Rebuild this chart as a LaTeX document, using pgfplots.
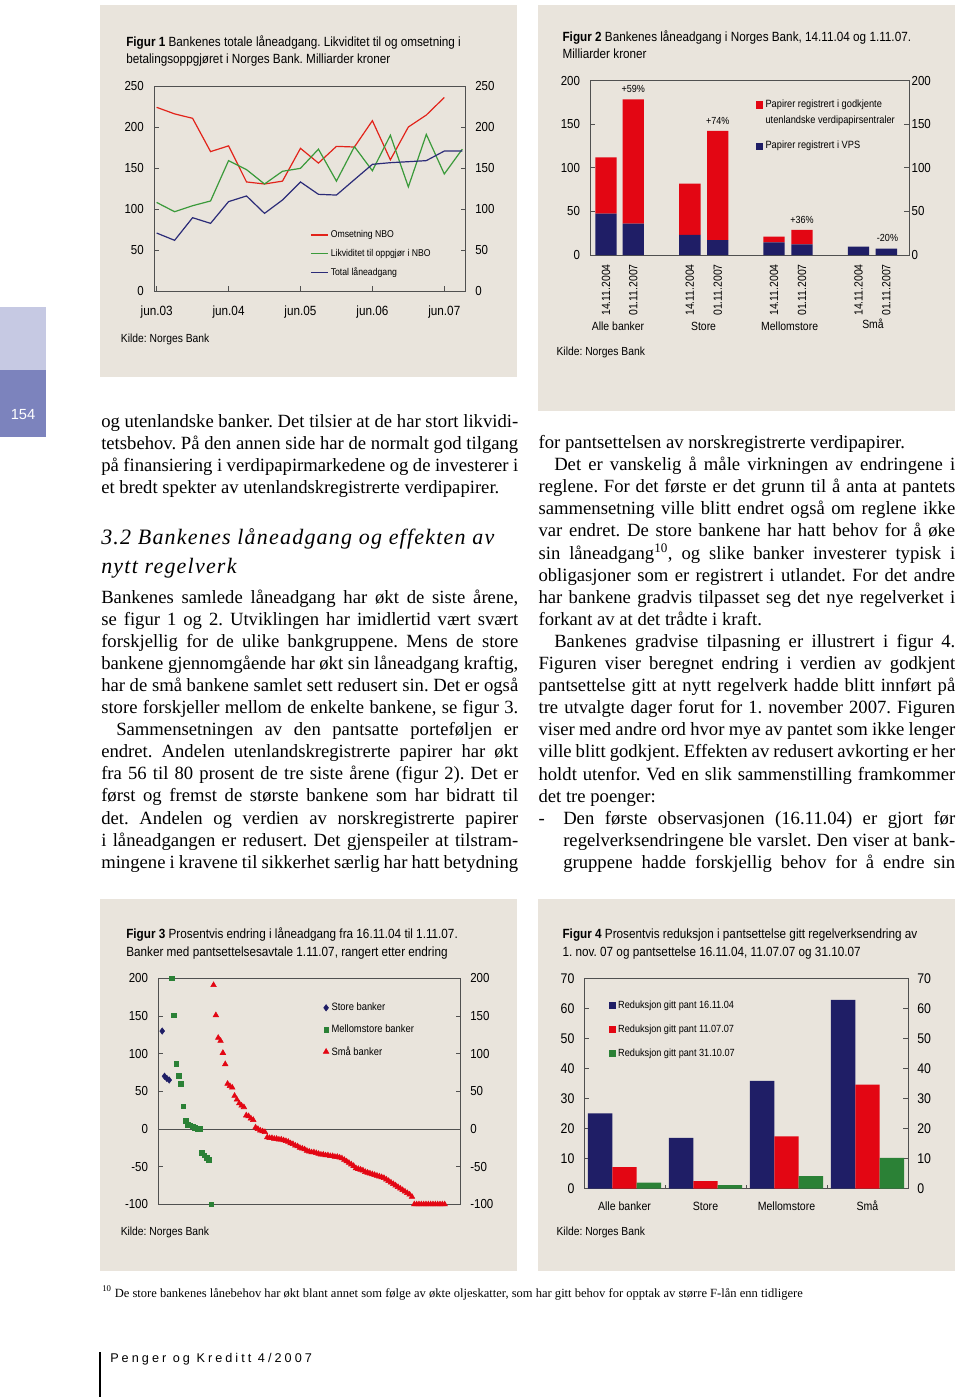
\documentclass[border=0pt]{standalone}
\usepackage{pgfplots}
\pgfplotsset{compat=1.18}
\usepackage{fontspec}
\setmainfont{Liberation Serif}
\newfontfamily\cf{Liberation Sans}[FakeStretch=0.88]
\newfontfamily\hf{Liberation Serif}[LetterSpace=5.5]
\newfontfamily\pf{Liberation Sans}[LetterSpace=24]
\newfontfamily\tf{Liberation Sans}
\frenchspacing
\definecolor{beige}{HTML}{E9E4DC}
\definecolor{fgray}{HTML}{505050}
\definecolor{lred}{HTML}{E2231A}
\definecolor{lgreen}{HTML}{3A9A3A}
\definecolor{lblue}{HTML}{2B2B78}
\definecolor{bred}{HTML}{E30613}
\definecolor{bnavy}{HTML}{1F1E66}
\definecolor{bgreen}{HTML}{2B8136}
\definecolor{tablight}{HTML}{C6C9E3}
\definecolor{tabdark}{HTML}{7C83BD}
\newcommand\bodyfs{\fontsize{14}{16.5}\selectfont}
\newcommand\jline[4]{\node[anchor=base west] at (#1,#2) {\bodyfs\makebox[#3pt][s]{#4}};}
\newcommand\nline[3]{\node[anchor=base west] at (#1,#2) {\bodyfs #3};}
\newcommand\tfs{\cf\fontsize{10}{12}\selectfont}
\newcommand\kfs{\cf\fontsize{8.8}{10}\selectfont}
\pgfplotsset{
 pnl/.style={scale only axis, anchor=south west, axis line style={fgray, line width=0.7pt},
   tick style={fgray, line width=0.6pt}, tick align=inside, major tick length=3.5pt,
   /pgf/number format/assume math mode=true,
   ticklabel style={font=\cf\fontsize{9.8}{11}\selectfont, inner sep=0pt},
   legend style={draw=none, fill=none, inner sep=0pt},
   legend cell align=left, clip=false, xtick pos=left, yticklabel pos=left},
 rl/.style={scale only axis, anchor=south west, hide x axis, axis y line*=right,
   y axis line style={draw=none}, ytick style={draw=none},
   /pgf/number format/assume math mode=true,
   yticklabel style={font=\cf\fontsize{9.8}{11}\selectfont, inner sep=0pt}},
}
\begin{document}
\begin{tikzpicture}
\begin{scope}[x=0.75pt,y=-0.75pt]
\path[use as bounding box] (0,0) rectangle (960,1397);
\fill[white] (0,0) rectangle (960,1397);
\fill[beige] (100,5) rectangle (517,377);
\fill[beige] (538,5) rectangle (955,411);
\fill[beige] (100,899) rectangle (517,1271);
\fill[beige] (538,899) rectangle (955,1271);
\fill[tablight] (0,307) rectangle (46,370);
\fill[tabdark] (0,370) rectangle (46,437);
\draw[line width=1pt] (100,1352) -- (100,1397);
\end{scope}

% ---------------- Figure 1
\begin{axis}[pnl, at={(115.725pt,-218.25pt)}, width=233.55pt, height=153.75pt,
  xmin=-0.13, xmax=17.19, ymin=0, ymax=250, ytick={0,50,...,250},
  xtick={0,4,8,12,16}, xticklabels={jun.03,jun.04,jun.05,jun.06,jun.07},
  xticklabel style={font=\cf\fontsize{10}{12}\selectfont},
  xticklabel shift=11pt, yticklabel shift=7.7pt,
  legend style={at={(0.5,0.31)}, anchor=north west, row sep=3pt, font=\cf\fontsize{7.4}{9}\selectfont},
  legend image code/.code={\draw[#1] (0pt,0pt) -- (12.5pt,0pt);}]
\addplot[lred, line width=0.9pt] coordinates {(0,224)(1,216)(2,210.6)(3,170)(4,177)(5,133)(6,130.5)(7,134)(8,174)(9,156)(10,176.4)(11,175.6)(12,207.7)(13,160)(14,200)(15,214.6)(16,236)};
\addlegendentry{Omsetning NBO}
\addplot[lgreen, line width=0.9pt] coordinates {(0,108)(1,96.7)(2,104)(3,109.8)(4,159)(5,148)(6,130.5)(7,146)(8,149.6)(9,173)(10,134)(11,176)(12,146.7)(13,190)(14,127)(15,191)(16,142.7)(17,173)};
\addlegendentry{Likviditet til oppgjør i NBO}
\addplot[lblue, line width=0.9pt] coordinates {(0,70.7)(1,61.8)(2,89.4)(3,82.5)(4,109)(5,115.9)(6,94.7)(7,111)(8,133)(9,117.9)(10,117)(11,135.8)(12,154.5)(13,156.5)(14,157.7)(15,159)(16,170.7)(17,170.7)};
\addlegendentry{Total låneadgang}
\end{axis}
\begin{axis}[rl, at={(115.725pt,-218.25pt)}, width=233.55pt, height=153.75pt,
  xmin=-0.13, xmax=17.19, ymin=0, ymax=250, ytick={0,50,...,250}, yticklabel shift=7pt]
\end{axis}

% ---------------- Figure 2
\begin{axis}[pnl, at={(442.725pt,-191.25pt)}, width=239.025pt, height=130.725pt,
  xmin=-0.574, xmax=11.087, ymin=0, ymax=200, ytick={0,50,...,200},
  ybar stacked, bar width=0.78,
  xtick={0,1,3.07,4.09,6.15,7.17,9.24,10.26},
  xticklabels={14.11.2004,01.11.2007,14.11.2004,01.11.2007,14.11.2004,01.11.2007,14.11.2004,01.11.2007},
  x tick style={draw=none},
  xticklabel style={rotate=90, anchor=east, font=\cf\fontsize{8.9}{10}\selectfont},
  xticklabel shift=6.75pt, yticklabel shift=7.5pt,
  legend style={at={(0.518,0.906)}, anchor=north west, row sep=1pt, font=\cf\fontsize{7.9}{9}\selectfont}]
\addplot[fill=bnavy, draw=none, forget plot] coordinates {(0,47.5)(1,36)(3.07,23)(4.09,17.2)(6.15,14.5)(7.17,12.2)(9.24,9.6)(10.26,7.3)};
\addplot[fill=bred, draw=none, forget plot] coordinates {(0,64.5)(1,142.5)(3.07,58.8)(4.09,125.1)(6.15,6.5)(7.17,16.5)(9.24,0)(10.26,0)};
\addlegendimage{legend image code/.code={\fill[bred] (0pt,-2.5pt) rectangle (5pt,2.5pt);}}
\addlegendentry{Papirer registrert i godkjente}
\addlegendimage{empty legend}
\addlegendentry{utenlandske verdipapirsentraler}
\addlegendimage{empty legend}
\addlegendentry{}
\addlegendimage{legend image code/.code={\fill[bnavy] (0pt,-2.5pt) rectangle (5pt,2.5pt);}}
\addlegendentry{Papirer registrert i VPS}
\node[anchor=south, font=\cf\fontsize{7.7}{9}\selectfont, yshift=1.5pt] at (axis cs:1,178.5) {+59\%};
\node[anchor=south, font=\cf\fontsize{7.7}{9}\selectfont, yshift=1.5pt] at (axis cs:4.09,142.3) {+74\%};
\node[anchor=south, font=\cf\fontsize{7.7}{9}\selectfont, yshift=1.5pt] at (axis cs:7.17,28.7) {+36\%};
\node[anchor=south, font=\cf\fontsize{7.7}{9}\selectfont, yshift=1.5pt] at (axis cs:10.3,7.3) {-20\%};
\node[anchor=base, font=\cf\fontsize{8.9}{10}\selectfont, yshift=-56.25pt] at (axis cs:0.44,0) {Alle banker};
\node[anchor=base, font=\cf\fontsize{8.9}{10}\selectfont, yshift=-56.25pt] at (axis cs:3.57,0) {Store};
\node[anchor=base, font=\cf\fontsize{8.9}{10}\selectfont, yshift=-56.25pt] at (axis cs:6.72,0) {Mellomstore};
\node[anchor=base, font=\cf\fontsize{8.9}{10}\selectfont, yshift=-55pt] at (axis cs:9.77,0) {Små};
\end{axis}
\begin{axis}[rl, at={(442.725pt,-191.25pt)}, width=239.025pt, height=130.725pt,
  xmin=-0.574, xmax=11.087, ymin=0, ymax=200, ytick={0,50,...,200}, yticklabel shift=1.75pt]
\end{axis}

% ---------------- Figure 3
\begin{axis}[pnl, at={(119.025pt,-903.225pt)}, width=226.2pt, height=169.5pt,
  xmin=-1.5, xmax=127.7, ymin=-100, ymax=200, ytick={-100,-50,...,200}, xtick=\empty,
  extra y ticks={0}, extra y tick labels={},
  extra y tick style={grid=major, major grid style={fgray, line width=0.7pt}},
  yticklabel shift=7.8pt,
  legend style={at={(0.545,0.904)}, anchor=north west, row sep=5pt, font=\cf\fontsize{8}{9}\selectfont},
  legend image code/.code={\draw[#1] plot coordinates {(3pt,0pt)};}]
\addplot[only marks, mark=diamond*, mark size=2.4pt, color=bnavy] coordinates {(0,130)(1,70)(2,67)(3,65)};
\addlegendentry{Store banker}
\addplot[only marks, mark=square*, mark size=1.75pt, color=bgreen] coordinates {(4,200)(5,151)(6,87)(7,71)(8,60)(9,30)(10,11)(11,6)(12,5)(13,3.5)(14,1.5)(15,0.5)(16,0)(17,-32)(18,-35)(19,-38)(20,-41)(21,-100)};
\addlegendentry{Mellomstore banker}
\addplot[only marks, mark=triangle*, mark size=2.4pt, color=bred] coordinates {
(22,191)(23,151)(24,121)(25,117)(26,101)(27,86)(28,60)(29,57)(30,55)(31,44)
(32,39)(33,34)(34,31)(35,29)(36,18)(37,17)(38,14)(39,12)(40,2)(41,0)
(42,-2)(43,-3)(44,-4)(45,-11)(46,-12)(47,-12)(48,-13)(49,-13)(50,-14)(51,-14)
(52,-15)(53,-16)(54,-17)(55,-19)(56,-20)(57,-22)(58,-23)(59,-25)(60,-26)(61,-27)
(62,-29)(63,-30)(64,-31)(65,-31)(66,-32)(67,-33)(68,-34)(69,-34)(70,-35)(71,-35)
(72,-36)(73,-36)(74,-37)(75,-37)(76,-38)(77,-39)(78,-41)(79,-43)(80,-45)(81,-47)
(82,-49)(83,-52)(84,-53)(85,-54)(86,-55)(87,-57)(88,-58)(89,-59)(90,-60)(91,-61)
(92,-62)(93,-63)(94,-64)(95,-65)(96,-67)(97,-69)(98,-71)(99,-73)(100,-75)(101,-77)
(102,-79)(103,-81)(104,-83)(105,-85)(106,-87)(107,-90)(108,-100)(109,-100)(110,-100)(111,-100)
(112,-100)(113,-100)(114,-100)(115,-100)(116,-100)(117,-100)(118,-100)(119,-100)(120,-100)(121,-100)};
\addlegendentry{Små banker}
\end{axis}
\begin{axis}[rl, at={(119.025pt,-903.225pt)}, width=226.2pt, height=169.5pt,
  xmin=-1.5, xmax=127.7, ymin=-100, ymax=200, ytick={-100,-50,...,200}, yticklabel shift=7.3pt]
\end{axis}

% ---------------- Figure 4
\begin{axis}[pnl, at={(438pt,-891.525pt)}, width=243pt, height=157.8pt,
  xmin=-0.5, xmax=3.5, ymin=0, ymax=70, ytick={0,10,...,70},
  xtick={0,1,2,3}, xticklabels={Alle banker,Store,Mellomstore,Små},
  major x tick style={draw=none}, minor xtick={0.5,1.5,2.5},
  ticklabel style={font=\cf\fontsize{10.5}{12}\selectfont},
  xticklabel style={font=\cf\fontsize{9}{11}\selectfont, text height=6.6pt}, xticklabel shift=9.6pt,
  yticklabel shift=7pt,
  legend style={at={(0.076,0.908)}, anchor=north west, row sep=7pt, font=\cf\fontsize{7.8}{9}\selectfont},
  legend image code/.code={\fill[#1] (0pt,-2.5pt) rectangle (5pt,2.5pt);}]
\addplot[ybar, bar width=0.302, bar shift=-0.302, fill=bnavy, draw=none] coordinates {(0,25.1)(1,16.9)(2,35.9)(3,62.8)};
\addlegendentry{Reduksjon gitt pant 16.11.04}
\addplot[ybar, bar width=0.302, bar shift=0, fill=bred, draw=none] coordinates {(0,7.2)(1,2.5)(2,17.4)(3,34.6)};
\addlegendentry{Reduksjon gitt pant 11.07.07}
\addplot[ybar, bar width=0.302, bar shift=0.302, fill=bgreen, draw=none] coordinates {(0,2.0)(1,1.2)(2,4.2)(3,10.3)};
\addlegendentry{Reduksjon gitt pant 31.10.07}
\end{axis}
\begin{axis}[rl, at={(438pt,-891.525pt)}, width=243pt, height=157.8pt,
  xmin=-0.5, xmax=3.5, ymin=0, ymax=70, ytick={0,10,...,70}, yticklabel shift=6.75pt,
  yticklabel style={font=\cf\fontsize{10.5}{12}\selectfont}]
\end{axis}

% ---------------- Texts
\begin{scope}[x=0.75pt,y=-0.75pt, every node/.style={inner sep=0pt}]
\node[anchor=base west, font=\tfs] at (126,46.7) {\textbf{Figur 1} Bankenes totale låneadgang. Likviditet til og omsetning i};
\node[anchor=base west, font=\tfs] at (126,63.3) {betalingsoppgjøret i Norges Bank. Milliarder kroner};
\node[anchor=base west, font=\kfs] at (120.7,342.5) {Kilde: Norges Bank};
\node[anchor=base west, font=\tfs] at (562.3,41) {\textbf{Figur 2} Bankenes låneadgang i Norges Bank, 14.11.04 og 1.11.07.};
\node[anchor=base west, font=\tfs] at (562.3,58.3) {Milliarder kroner};
\node[anchor=base west, font=\kfs] at (556.3,355.5) {Kilde: Norges Bank};
\node[anchor=base west, font=\tfs] at (126,938.3) {\textbf{Figur 3} Prosentvis endring i låneadgang fra 16.11.04 til 1.11.07.};
\node[anchor=base west, font=\tfs] at (126,956) {Banker med pantsettelsesavtale 1.11.07, rangert etter endring};
\node[anchor=base west, font=\kfs] at (120.5,1235) {Kilde: Norges Bank};
\node[anchor=base west, font=\tfs] at (562.3,938.3) {\textbf{Figur 4} Prosentvis reduksjon i pantsettelse gitt regelverksendring av};
\node[anchor=base west, font=\tfs] at (562.3,956) {1. nov. 07 og pantsettelse 16.11.04, 11.07.07 og 31.10.07};
\node[anchor=base west, font=\kfs] at (556.3,1235) {Kilde: Norges Bank};

\node[text=white, font=\tf\fontsize{11}{13}\selectfont] at (23,415) {154};

% left column
\jline{101}{427}{312.75}{og utenlandske banker. Det tilsier at de har stort likvidi-}
\jline{101}{449}{312.75}{tetsbehov. På den annen side har de normalt god tilgang}
\jline{101}{471}{312.75}{på finansiering i verdipapirmarkedene og de investerer i}
\nline{101}{493}{et bredt spekter av utenlandskregistrerte verdipapirer.}
\node[anchor=base west] at (101,544.7) {\hf\itshape\fontsize{16.5}{20}\selectfont 3.2 Bankenes låneadgang og effekten av};
\node[anchor=base west] at (101,573.2) {\hf\itshape\fontsize{16.5}{20}\selectfont nytt regelverk};
\jline{101}{603.5}{312.75}{Bankenes samlede låneadgang har økt de siste årene,}
\jline{101}{625.55}{312.75}{se figur 1 og 2. Utviklingen har imidlertid vært svært}
\jline{101}{647.6}{312.75}{forskjellig for de ulike bankgruppene. Mens de store}
\jline{101}{669.65}{312.75}{bankene gjennomgående har økt sin låneadgang kraftig,}
\jline{101}{691.7}{312.75}{har de små bankene samlet sett redusert sin. Det er også}
\jline{101}{713.75}{312.75}{store forskjeller mellom de enkelte bankene, se figur 3.}
\jline{116}{735.8}{301.5}{Sammensetningen av den pantsatte porteføljen er}
\jline{101}{757.85}{312.75}{endret. Andelen utenlandskregistrerte papirer har økt}
\jline{101}{779.9}{312.75}{fra 56 til 80 prosent de tre siste årene (figur 2). Det er}
\jline{101}{801.95}{312.75}{først og fremst de største bankene som har bidratt til}
\jline{101}{824}{312.75}{det. Andelen og verdien av norskregistrerte papirer}
\jline{101}{846.05}{312.75}{i låneadgangen er redusert. Det gjenspeiler at tilstram-}
\jline{101}{868.1}{312.75}{mingene i kravene til sikkerhet særlig har hatt betydning}

% right column
\nline{538.3}{448.5}{for pantsettelsen av norskregistrerte verdipapirer.}
\jline{554}{470.6}{300.75}{Det er vanskelig å måle virkningen av endringene i}
\jline{538.3}{492.7}{312.5}{reglene. For det første er det grunn til å anta at pantets}
\jline{538.3}{514.8}{312.5}{sammensetning ville blitt endret også om reglene ikke}
\jline{538.3}{536.9}{312.5}{var endret. De store bankene har hatt behov for å øke}
\jline{538.3}{559}{312.5}{sin låneadgang\textsuperscript{10}, og slike banker investerer typisk i}
\jline{538.3}{581.1}{312.5}{obligasjoner som er registrert i utlandet. For det andre}
\jline{538.3}{603.2}{312.5}{har bankene gradvis tilpasset seg det nye regelverket i}
\nline{538.3}{625.3}{forkant av at det trådte i kraft.}
\jline{554}{647.4}{300.75}{Bankenes gradvise tilpasning er illustrert i figur 4.}
\jline{538.3}{669.5}{312.5}{Figuren viser beregnet endring i verdien av godkjent}
\jline{538.3}{691.6}{312.5}{pantsettelse gitt at nytt regelverk hadde blitt innført på}
\jline{538.3}{713.7}{312.5}{tre utvalgte dager forut for 1. november 2007. Figuren}
\jline{538.3}{735.8}{312.5}{viser med andre ord hvor mye av pantet som ikke lenger}
\jline{538.3}{757.9}{312.5}{ville blitt godkjent. Effekten av redusert avkorting er her}
\jline{538.3}{780}{312.5}{holdt utenfor. Ved en slik sammenstilling framkommer}
\nline{538.3}{802.1}{det tre poenger:}
\nline{538.3}{824.2}{-}
\jline{563}{824.2}{294}{Den første observasjonen (16.11.04) er gjort før}
\jline{563}{846.3}{294}{regelverksendringene ble varslet. Den viser at bank-}
\jline{563}{868.4}{294}{gruppene hadde forskjellig behov for å endre sin}

\node[anchor=base west, font=\fontsize{9.4}{11}\selectfont] at (102,1297) {\textsuperscript{10} De store bankenes lånebehov har økt blant annet som følge av økte oljeskatter, som har gitt behov for opptak av større F-lån enn tidligere};
\node[anchor=base west, font=\pf\fontsize{9.5}{10}\selectfont] at (110,1362) {Penger og Kreditt 4/2007};
\end{scope}
\end{tikzpicture}
\end{document}
